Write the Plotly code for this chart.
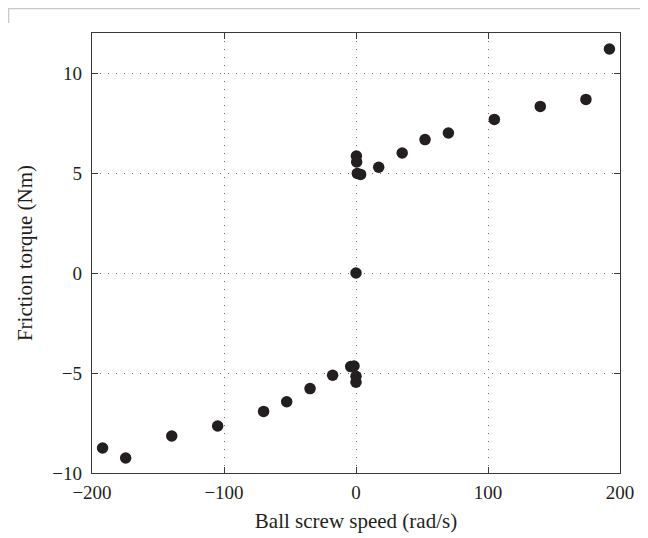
import plotly.graph_objects as go

# Ball screw speed (rad/s) and friction torque (Nm)
speed = [-192, -174.5, -139.6, -104.8, -70, -52.5, -34.8, -17.7, -4, -1.5, 0, 0,
         0, 0.3, 0.5, 1, 3.5, 17.2, 35, 52.3, 70, 104.8, 139.6, 174.2, 192]
torque = [-8.75, -9.25, -8.15, -7.65, -6.92, -6.44, -5.78, -5.11, -4.68, -4.65, -5.16, -5.46,
          0.0, 5.85, 5.55, 4.98, 4.93, 5.29, 6.0, 6.67, 7.0, 7.68, 8.33, 8.68, 11.2]

x_ticks = [-200, -100, 0, 100, 200]
x_ticklabels = ["\u2212200", "\u2212100", "0", "100", "200"]
y_ticks = [-10, -5, 0, 5, 10]
y_ticklabels = ["\u221210", "\u22125", "0", "5", "10"]

FONT = "Liberation Serif"

fig = go.Figure()
fig.add_trace(go.Scatter(
    x=speed, y=torque, mode="markers",
    marker=dict(size=11.5, color="#231f20", line=dict(width=0)),
    showlegend=False,
))

axis_common = dict(
    showline=True, linecolor="#3a3a3a", linewidth=1.3, mirror="ticks",
    ticks="inside", ticklen=6, tickcolor="#3a3a3a", tickwidth=1.3,
    showgrid=True, gridcolor="#6e6e6e", gridwidth=1, griddash="1px,7px",
    zeroline=False,
    tickfont=dict(family=FONT, size=19, color="#231f20"),
    title_font=dict(family=FONT, size=21, color="#231f20"),
)

fig.update_xaxes(range=[-200, 200], tickvals=x_ticks, ticktext=x_ticklabels,
                 ticklabelstandoff=2,
                 title_text="Ball screw speed (rad/s)", title_standoff=11, **axis_common)
fig.update_yaxes(range=[-10, 12], tickvals=y_ticks, ticktext=y_ticklabels,
                 ticklabelstandoff=5,
                 title_text="Friction torque (Nm)", title_standoff=13, **axis_common)

# light page-border artifact at the top-left
W, H, L, T = 528, 440, 84, 25
fig.add_shape(type="line", xref="paper", yref="paper",
              x0=-L / W, x1=(640 - L) / W, y0=1 + (T - 0.5) / H, y1=1 + (T - 0.5) / H,
              line=dict(color="#c8c8c8", width=1.5))
fig.add_shape(type="line", xref="paper", yref="paper",
              x0=(0.5 - L) / W, x1=(0.5 - L) / W, y0=1 + T / H, y1=1 + (T - 15) / H,
              line=dict(color="#c8c8c8", width=1.5))

fig.update_layout(
    width=648, height=538,
    margin=dict(l=L, r=648 - L - W, t=T, b=538 - T - H),
    paper_bgcolor="white", plot_bgcolor="white",
)

fig.write_html("out.html")
